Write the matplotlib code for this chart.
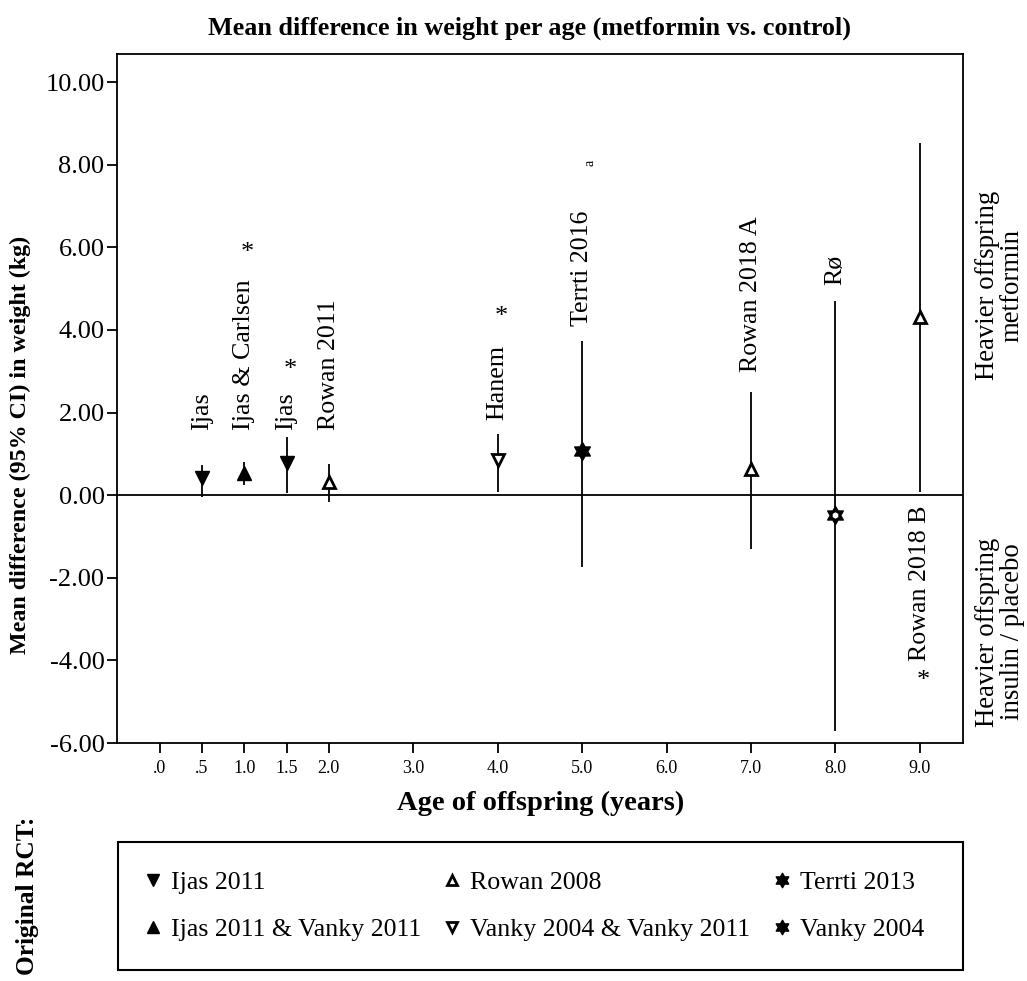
import matplotlib
matplotlib.use("Agg")
import matplotlib.pyplot as plt
from matplotlib.path import Path
from matplotlib.patches import Rectangle
from matplotlib.lines import Line2D

plt.rcParams['font.family'] = ['Liberation Serif', 'DejaVu Serif']

# ---- data ----
ages = [0.5, 1.0, 1.5, 2.0, 4.0, 5.0, 7.0, 8.0, 9.0]
mean_diff = [0.41, 0.53, 0.77, 0.31, 0.85, 1.07, 0.63, -0.49, 4.31]
ci_lower = [-0.05, 0.24, 0.05, -0.17, 0.07, -1.74, -1.31, -5.71, 0.08]
ci_upper = [0.73, 0.80, 1.40, 0.75, 1.48, 3.73, 2.49, 4.70, 8.52]
original_rct = ['Ijas 2011', 'Ijas 2011 & Vanky 2011', 'Ijas 2011', 'Rowan 2008',
                'Vanky 2004 & Vanky 2011', 'Terrti 2013', 'Rowan 2008', 'Vanky 2004',
                'Rowan 2008']
study_labels = ['Ijas', 'Ijas & Carlsen', 'Ijas', 'Rowan 2011', 'Hanem',
                'Terrti 2016', 'Rowan 2018 A', 'Rø', 'Rowan 2018 B']
significant = [False, True, True, False, True, False, False, False, True]
legend_order = ['Ijas 2011', 'Ijas 2011 & Vanky 2011', 'Rowan 2008',
                'Vanky 2004 & Vanky 2011', 'Terrti 2013', 'Vanky 2004']
x_ticks = [0, 0.5, 1, 1.5, 2, 3, 4, 5, 6, 7, 8, 9]
x_ticklabels = ['.0', '.5', '1.0', '1.5', '2.0', '3.0', '4.0', '5.0', '6.0', '7.0', '8.0', '9.0']
y_ticks = [-6, -4, -2, 0, 2, 4, 6, 8, 10]

# ---- layout (label anchor heights, data units) ----
label_y = [1.57, 1.57, 1.57, 1.57, 1.82, 4.10, 2.98, 5.08, -0.24]
star_y = [None, 5.86, 3.03, None, 4.31, None, None, None, -4.50]

hexagram = Path.unit_regular_star(6, 0.577)
styles = {
    'Ijas 2011': dict(marker='v', mfc='black', mec='black', ms=10, mew=1),
    'Ijas 2011 & Vanky 2011': dict(marker='^', mfc='black', mec='black', ms=10, mew=1),
    'Rowan 2008': dict(marker='^', mfc='white', mec='black', ms=8.5, mew=2),
    'Vanky 2004 & Vanky 2011': dict(marker='v', mfc='white', mec='black', ms=8.5, mew=2),
    'Terrti 2013': dict(marker=hexagram, mfc='black', mec='black', ms=13, mew=1),
    'Vanky 2004': dict(marker=hexagram, mfc='black', mec='black', ms=13, mew=1),
}

fig = plt.figure(figsize=(10.27, 9.81), dpi=100)
ax = fig.add_axes([117 / 1027, 1 - 743 / 981, (963 - 117) / 1027, (743 - 54) / 981])

ax.axhline(0, color='black', lw=1.3, zorder=1)
ax.vlines(ages, ci_lower, ci_upper, color='black', lw=1.3, zorder=2)
for x, m, g in zip(ages, mean_diff, original_rct):
    ax.plot([x], [m], linestyle='none', zorder=3, **styles[g])
    if g == 'Vanky 2004':
        ax.plot([x], [m], linestyle='none', marker='h', mfc='white', mec='white',
                ms=3.5, zorder=4)

for x, ly, lab, sy, sig in zip(ages, label_y, study_labels, star_y, significant):
    va = 'top' if ly < 0 else 'bottom'
    ax.text(x, ly, lab, rotation=90, ha='center', va=va, fontsize=18.7)
    if sig:
        ax.text(x + 0.04, sy, '*', ha='center', va='center', fontsize=19)
ax.text(5.09, 8.05, 'a', ha='center', va='center', fontsize=10, rotation=90)

ax.set_xlim(-0.507, 9.51)
ax.set_ylim(-6, 10.68)
ax.set_xticks(x_ticks)
ax.set_xticklabels(x_ticklabels, fontsize=13)
ax.set_yticks(y_ticks)
ax.set_yticklabels([f'{v:.2f}' for v in y_ticks], fontsize=19)
ax.tick_params(axis='both', direction='out', length=7, width=1.3, color='black')
ax.tick_params(axis='x', pad=5)
ax.tick_params(axis='y', pad=2)
for s in ax.spines.values():
    s.set_linewidth(1.3)

fig.text(529 / 1027, 1 - 28 / 981, 'Mean difference in weight per age (metformin vs. control)',
         ha='center', va='center', fontsize=18.8, fontweight='bold')
fig.text(541 / 1027, 1 - 803 / 981, 'Age of offspring (years)',
         ha='center', va='center', fontsize=20.5, fontweight='bold')
fig.text(20 / 1027, 1 - 445 / 981, 'Mean difference (95% CI) in weight (kg)',
         ha='center', va='center', rotation=90, fontsize=17.3, fontweight='bold')
fig.text(1000 / 1027, 1 - 285 / 981, 'Heavier offspring\nmetformin', ha='center',
         va='center', rotation=90, fontsize=19.3, multialignment='center', linespacing=0.95)
fig.text(1000 / 1027, 1 - 632 / 981, 'Heavier offspring\ninsulin / placebo', ha='center',
         va='center', rotation=90, fontsize=19.3, multialignment='center', linespacing=0.95)
fig.text(28 / 1027, 1 - 896 / 981, 'Original RCT:', ha='center', va='center',
         rotation=90, fontsize=18.3, fontweight='bold')

# legend box
fig.patches.append(Rectangle((118 / 1027, 1 - 970 / 981), (963 - 118) / 1027, (970 - 842) / 981,
                             transform=fig.transFigure, fill=False, lw=1.5, ec='black'))
handles = []
for g in legend_order:
    st = dict(styles[g])
    st['ms'] = st['ms'] * 0.8
    handles.append(Line2D([], [], linestyle='none', **st))
leg = fig.legend(handles, legend_order, loc='upper left',
                 bbox_to_anchor=(144 / 1027, 1 - 871 / 981), ncol=3, frameon=False,
                 fontsize=18.6, handlelength=0.7, handletextpad=0.35, columnspacing=0.85,
                 labelspacing=0.92, borderpad=0, borderaxespad=0)

fig.savefig('out.png', dpi=100)
